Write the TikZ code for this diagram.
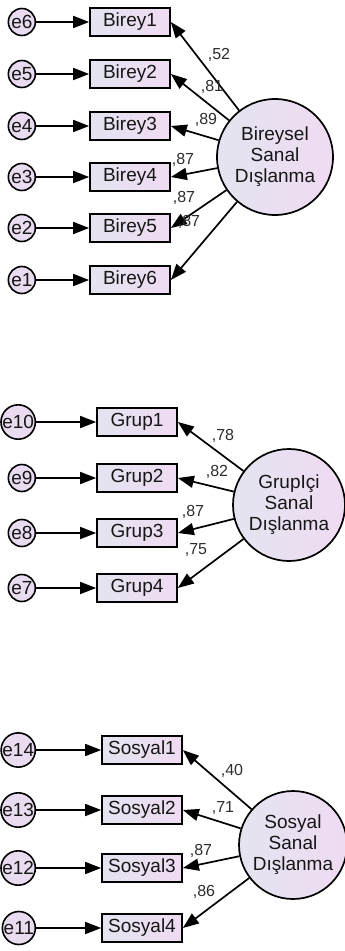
\documentclass[tikz,border=0pt]{standalone}
\usepackage{fontspec}
\setmainfont{Liberation Sans}
\usetikzlibrary{arrows.meta, positioning}

\definecolor{boxleft}{HTML}{E4E4F0}
\definecolor{boxright}{HTML}{EFDBF2}
\definecolor{errfill}{HTML}{EADCF0}
\definecolor{inktext}{HTML}{161616}

\begin{document}
\begin{tikzpicture}[
  x=1pt, y=-1pt,
  indicator/.style = {draw, line width=1.7pt, rectangle, minimum width=80pt, minimum height=28pt,
    inner sep=0pt, left color=boxleft, right color=boxright, text=inktext,
    font=\fontsize{19}{21}\selectfont},
  errvar/.style = {draw, line width=1.6pt, circle, minimum size=27pt, inner sep=0pt,
    fill=errfill, text=inktext, font=\fontsize{19}{21}\selectfont},
  latent/.style = {draw, line width=1.7pt, circle, inner sep=0pt, align=center,
    left color=boxleft, right color=boxright, text=inktext,
    font=\fontsize{19}{21}\selectfont},
  arrow/.style = {line width=1.7pt, -{Triangle[length=16pt, width=12pt]}},
  loading/.style = {inner sep=0pt, text=inktext!90, font=\fontsize{16}{18}\selectfont},
  node distance=53pt
]

  \useasboundingbox (0,0) rectangle (345,951);

  % Bireysel Sanal Dislanma
  \node[latent, minimum size=116pt] (bir) at (275,157) {Bireysel\\Sanal\\Dışlanma};

  \node[indicator] (b1) at (130,22)  {Birey1};
  \node[indicator] (b2) at (130,74)  {Birey2};
  \node[indicator] (b3) at (130,126) {Birey3};
  \node[indicator] (b4) at (130,177) {Birey4};
  \node[indicator] (b5) at (130,228) {Birey5};
  \node[indicator] (b6) at (130,280) {Birey6};

  \node[errvar, left=of b1] (e6) {e6};
  \node[errvar, left=of b2] (e5) {e5};
  \node[errvar, left=of b3] (e4) {e4};
  \node[errvar, left=of b4] (e3) {e3};
  \node[errvar, left=of b5] (e2) {e2};
  \node[errvar, left=of b6] (e1) {e1};

  \draw[arrow] (e6) -- (b1);
  \draw[arrow] (e5) -- (b2);
  \draw[arrow] (e4) -- (b3);
  \draw[arrow] (e3) -- (b4);
  \draw[arrow] (e2) -- (b5);
  \draw[arrow] (e1) -- (b6);

  \draw[arrow] (bir) -- (b1.east);
  \draw[arrow] (bir) -- (b2.east);
  \draw[arrow] (bir) -- (b3.east);
  \draw[arrow] (bir) -- (b4.east);
  \draw[arrow] (bir) -- (b5.east);
  \draw[arrow] (bir) -- (b6.east);

  \node[loading] (lb1) at (219,55)  {,52};
  \node[loading] (lb2) at (212,87)  {,81};
  \node[loading] (lb3) at (206,120) {,89};
  \node[loading] (lb4) at (183,160) {,87};
  \node[loading] (lb5) at (184,198) {,87};
  \node[loading] (lb6) at (189,222) {,87};

  % GrupIci Sanal Dislanma
  \node[latent, minimum size=112pt] (grp) at (289,505) {GrupIçi\\Sanal\\Dışlanma};

  \node[indicator] (g1) at (137,422) {Grup1};
  \node[indicator] (g2) at (137,478) {Grup2};
  \node[indicator] (g3) at (137,533) {Grup3};
  \node[indicator] (g4) at (137,588) {Grup4};

  \node[errvar, left=60pt of g1] (e10) {e10};
  \node[errvar, left=60pt of g2] (e9)  {e9};
  \node[errvar, left=60pt of g3] (e8)  {e8};
  \node[errvar, left=60pt of g4] (e7)  {e7};

  \draw[arrow] (e10) -- (g1);
  \draw[arrow] (e9) -- (g2);
  \draw[arrow] (e8) -- (g3);
  \draw[arrow] (e7) -- (g4);

  \draw[arrow] (grp) -- (g1.east);
  \draw[arrow] (grp) -- (g2.east);
  \draw[arrow] (grp) -- (g3.east);
  \draw[arrow] (grp) -- (g4.east);

  \node[loading] (lg1) at (223,436) {,78};
  \node[loading] (lg2) at (217,472) {,82};
  \node[loading] (lg3) at (193,512) {,87};
  \node[loading] (lg4) at (196,550) {,75};

  % Sosyal Sanal Dislanma
  \node[latent, minimum size=108pt] (sos) at (293,845) {Sosyal\\Sanal\\Dışlanma};

  \node[indicator] (s1) at (142,750) {Sosyal1};
  \node[indicator] (s2) at (142,810) {Sosyal2};
  \node[indicator] (s3) at (142,868) {Sosyal3};
  \node[indicator] (s4) at (142,928) {Sosyal4};

  \node[errvar, left=65pt of s1] (e14) {e14};
  \node[errvar, left=65pt of s2] (e13) {e13};
  \node[errvar, left=65pt of s3] (e12) {e12};
  \node[errvar, left=65pt of s4] (e11) {e11};

  \draw[arrow] (e14) -- (s1);
  \draw[arrow] (e13) -- (s2);
  \draw[arrow] (e12) -- (s3);
  \draw[arrow] (e11) -- (s4);

  \draw[arrow] (sos) -- (s1.east);
  \draw[arrow] (sos) -- (s2.east);
  \draw[arrow] (sos) -- (s3.east);
  \draw[arrow] (sos) -- (s4.east);

  \node[loading] (ls1) at (232,771) {,40};
  \node[loading] (ls2) at (223,808) {,71};
  \node[loading] (ls3) at (201,851) {,87};
  \node[loading] (ls4) at (204,892) {,86};

\end{tikzpicture}
\end{document}
